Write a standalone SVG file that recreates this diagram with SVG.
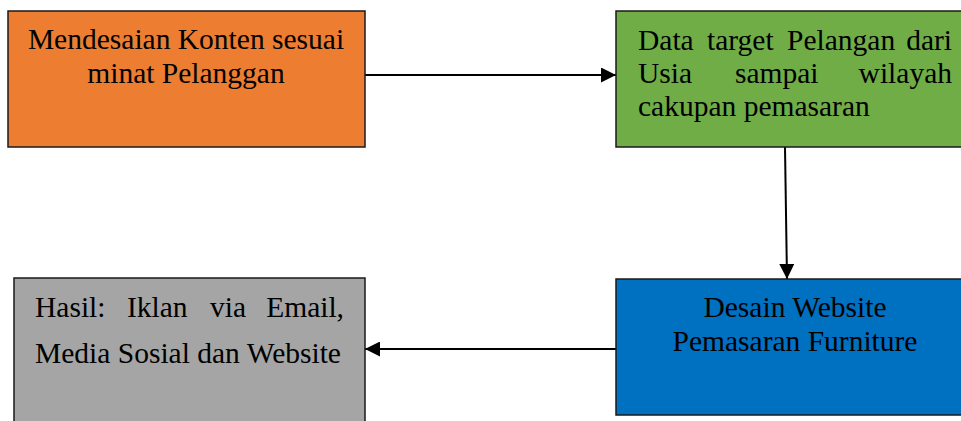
<svg xmlns="http://www.w3.org/2000/svg" width="961" height="421" viewBox="0 0 961 421">
  <style>
    .box { stroke: #1a1a1a; stroke-width: 1.5; }
    .lbl { font-family: "Liberation Serif", "Times New Roman", serif; font-size: 29.5px; fill: #000; }
    .mid { text-anchor: middle; }
    .end { text-anchor: end; }
    .conn { stroke: #000; stroke-width: 2; fill: none; marker-end: url(#arrow); }
  </style>
  <defs>
    <marker id="arrow" viewBox="0 0 10 10" refX="10" refY="5" markerUnits="userSpaceOnUse" markerWidth="16" markerHeight="15" orient="auto">
      <path d="M0,0 L10,5 L0,10 Z" fill="#000"/>
    </marker>
  </defs>

  <g id="connectors">
    <line class="conn" x1="365" y1="75" x2="616" y2="75"/>
    <line class="conn" x1="785" y1="147" x2="787" y2="279"/>
    <line class="conn" x1="616" y1="349" x2="365" y2="349"/>
  </g>

  <g id="konten">
    <rect class="box" x="8" y="11" width="357" height="136" fill="#ED7D31"/>
    <text class="lbl mid" x="186" y="49">Mendesaian Konten sesuai</text>
    <text class="lbl mid" x="186" y="83">minat Pelanggan</text>
  </g>

  <g id="data-target">
    <rect class="box" x="616" y="11" width="360" height="136" fill="#70AD47"/>
    <text class="lbl" y="50"><tspan x="638">Data</tspan><tspan x="707">target</tspan><tspan x="787">Pelangan</tspan></text>
    <text class="lbl end" x="952" y="50">dari</text>
    <text class="lbl" y="83"><tspan x="638">Usia</tspan><tspan x="735">sampai</tspan></text>
    <text class="lbl end" x="952" y="83">wilayah</text>
    <text class="lbl" x="638" y="116">cakupan pemasaran</text>
  </g>

  <g id="desain-website">
    <rect class="box" x="616" y="279" width="360" height="136" fill="#0070C0"/>
    <text class="lbl mid" x="795" y="317">Desain Website</text>
    <text class="lbl mid" x="795" y="351">Pemasaran Furniture</text>
  </g>

  <g id="hasil">
    <rect class="box" x="14" y="278" width="351" height="160" fill="#A5A5A5"/>
    <text class="lbl" y="317"><tspan x="35">Hasil:</tspan><tspan x="127">Iklan</tspan><tspan x="210">via</tspan></text>
    <text class="lbl end" x="344" y="317">Email,</text>
    <text class="lbl" x="35" y="363">Media Sosial dan Website</text>
  </g>
</svg>
